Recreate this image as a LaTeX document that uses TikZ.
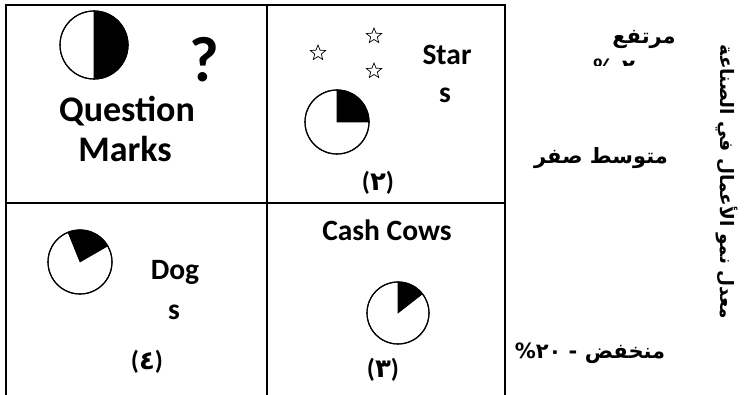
\documentclass[tikz,border=0pt]{standalone}
\usepackage{fontspec}
\setmainfont{Carlito}
\newfontfamily\arabicfont[Script=Arabic]{DejaVu Sans Bold}
\newfontfamily\dvs{DejaVu Sans Bold}
\TeXXeTstate=1
\usetikzlibrary{shapes.geometric}
\begin{document}
\begin{tikzpicture}[x=1pt,y=-1pt,
  grid/.style={line width=1.4pt},
  lat/.style={font=\bfseries\fontsize{29.5}{31}\selectfont, inner sep=0pt},
  big/.style={font=\bfseries\fontsize{36}{38}\selectfont, inner sep=0pt},
  ara/.style={font=\arabicfont\fontsize{21}{23}\selectfont, inner sep=0pt},
  num/.style={font=\bfseries\fontsize{26}{28}\selectfont, inner sep=0pt},
  pie/.style={draw, line width=1.1pt, fill=white},
  wedge/.style={fill=black, draw, line width=0.6pt},
  starshape/.style={star, star points=5, star point ratio=2.3, draw, line width=0.7pt, minimum size=16pt, inner sep=0pt}
]
\useasboundingbox (0,0) rectangle (750,395);
% grid
\draw[grid] (6,5) -- (506,5);
\draw[grid] (6,4.3) -- (6,400);
\draw[grid] (267,5) -- (267,400);
\draw[grid] (505,4.3) -- (505,400);
\draw[grid] (6,203) -- (506,203);

% Question Marks
\draw[pie] (94,45) circle (34);
\fill[wedge] (94,45) -- (94,11) arc (-90:90:34) -- cycle;
\draw[line width=1.1pt] (94,45) circle (34);
\node[font=\bfseries\fontsize{64}{66}\selectfont, inner sep=0pt, anchor=base] (qm) at (204,82) {?};
\node[big, anchor=base] (question) at (127,122) {Question};
\node[big, anchor=base] (marks) at (125,162) {Marks};

% Stars
\node[starshape] (s1) at (318,53) {};
\node[starshape] (s2) at (374,36) {};
\node[starshape] (s3) at (374,71) {};
\draw[pie] (337,122) circle (32);
\fill[wedge] (337,122) -- (369,122) arc (0:-90:32) -- cycle;
\draw[line width=1.1pt] (337,122) circle (32);
\node[lat, anchor=base] (star) at (447,65) {Star};
\node[lat, anchor=base] (stars) at (445,103) {s};
\node[num] (n2) at (378,183) {({\arabicfont ٢})};

% Dogs
\draw[pie] (80,262) circle (32);
\fill[wedge] (80,262) -- ++(-30:32) arc (-30:-112:32) -- cycle;
\draw[line width=1.1pt] (80,262) circle (32);
\node[lat, anchor=base] (dog) at (175,280) {Dog};
\node[lat, anchor=base] (dogs) at (174,320) {s};
\node[num] (n4) at (147,362) {({\arabicfont ٤})};

% Cash Cows
\node[lat, anchor=base] (cash) at (387,241) {Cash Cows};
\draw[pie] (398,313) circle (31);
\fill[wedge] (398,313) -- ++(-38:31) arc (-38:-90:31) -- cycle;
\draw[line width=1.1pt] (398,313) circle (31);
\node[num] (n3) at (383,370) {({\arabicfont ٣})};

% right labels
\node[ara] (high) at (644,39) {\beginR مرتفع\endR};
\begin{scope}
\clip (580,55) rectangle (690,66);
\node[ara, anchor=base west] (highpct) at (593,75) {{\dvs\%}\kern8pt{\arabicfont ٢}\kern16pt{\arabicfont ٠}};
\end{scope}
\node[ara] (mid) at (601,158) {\beginR متوسط صفر\endR};
\node[ara] (low) at (590,353) {{\dvs\%}\kern0pt{\arabicfont ٢٠}\kern0pt{\dvs\ -\ }\kern0pt{\arabicfont\beginR منخفض\endR}};
\node[font=\arabicfont\fontsize{18.5}{20}\selectfont, inner sep=0pt, rotate=-90] (axis) at (727,182) {\beginR معدل نمو الأعمال في الصناعة\endR};
\end{tikzpicture}
\end{document}
